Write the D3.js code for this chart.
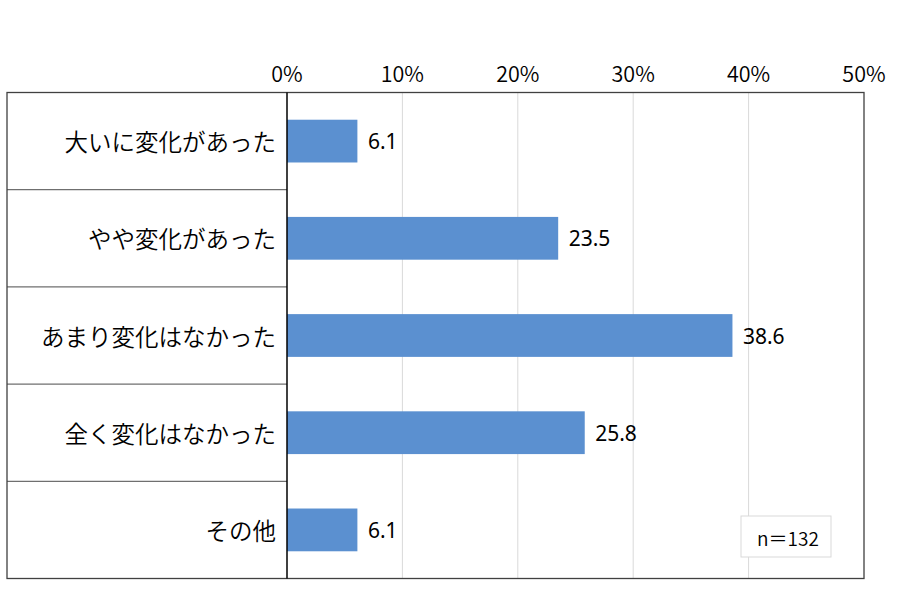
<!DOCTYPE html>
<html><head><meta charset="utf-8">
<script src="https://cdn.jsdelivr.net/npm/d3@7"></script>
<style>html,body{margin:0;padding:0;background:#fff;}svg{display:block;}</style>
</head><body>
<svg id="chart" width="900" height="607"></svg>
<script>
const categories = ["大いに変化があった","やや変化があった","あまり変化はなかった","全く変化はなかった","その他"];
const values = [6.1, 23.5, 38.6, 25.8, 6.1];
const tickValues = [0, 10, 20, 30, 40, 50];
const sampleNote = "n＝132";

const svg = d3.select("#chart");
const font = "'Noto Sans CJK JP','Noto Sans',sans-serif";
const numFont = "'Noto Sans',sans-serif";
const frame = {left: 7, right: 864, top: 92.5, bottom: 578.5};
const axisX = 287;

const x = d3.scaleLinear().domain([0, 50]).range([axisX, frame.right]);
const y = d3.scaleBand().domain(categories).range([frame.top, frame.bottom]).paddingInner(0).paddingOuter(0);
const barH = y.bandwidth() * 0.44;

// gridlines
svg.append("g").selectAll("line").data(tickValues.filter(d => d > 0 && d < 50)).join("line")
  .attr("x1", d => x(d)).attr("x2", d => x(d))
  .attr("y1", frame.top).attr("y2", frame.bottom)
  .attr("stroke", "#d9d9d9").attr("stroke-width", 1);

// tick labels
svg.append("g").selectAll("text").data(tickValues).join("text")
  .attr("x", d => x(d)).attr("y", 72)
  .attr("text-anchor", "middle").attr("dominant-baseline", "central")
  .attr("font-family", font).attr("font-size", 21.5).attr("font-weight", 350).attr("fill", "#000")
  .text(d => d + "%");

// row separators in label area
svg.append("g").selectAll("line").data(categories.slice(1)).join("line")
  .attr("x1", frame.left).attr("x2", axisX)
  .attr("y1", d => y(d)).attr("y2", d => y(d))
  .attr("stroke", "#6f6f6f").attr("stroke-width", 1.3);

// bars
svg.append("g").selectAll("rect").data(values).join("rect")
  .attr("x", x(0))
  .attr("y", (d, i) => y(categories[i]) + (y.bandwidth() - barH) / 2)
  .attr("width", d => x(d) - x(0))
  .attr("height", barH)
  .attr("fill", "#5b90d0");

// value labels
svg.append("g").selectAll("text").data(values).join("text")
  .attr("x", d => x(d) + 10.5)
  .attr("y", (d, i) => y(categories[i]) + y.bandwidth() / 2)
  .attr("dominant-baseline", "central")
  .attr("font-family", numFont).attr("font-size", 21).attr("fill", "#000")
  .text(d => d.toFixed(1));

// category labels
svg.append("g").selectAll("text").data(categories).join("text")
  .attr("x", axisX - 11)
  .attr("y", d => y(d) + y.bandwidth() / 2)
  .attr("text-anchor", "end").attr("dominant-baseline", "central")
  .attr("font-family", font).attr("font-size", 23.5).attr("font-weight", 350).attr("fill", "#000")
  .text(d => d);

// frame
svg.append("rect")
  .attr("x", frame.left).attr("y", frame.top)
  .attr("width", frame.right - frame.left).attr("height", frame.bottom - frame.top)
  .attr("fill", "none").attr("stroke", "#404040").attr("stroke-width", 1.3);

// axis line
svg.append("line")
  .attr("x1", axisX).attr("x2", axisX)
  .attr("y1", frame.top).attr("y2", frame.bottom)
  .attr("stroke", "#000").attr("stroke-width", 1.5);

// n note box
svg.append("rect")
  .attr("x", 741).attr("y", 516).attr("width", 90).attr("height", 41)
  .attr("fill", "#fff").attr("stroke", "#d9d9d9").attr("stroke-width", 1);
svg.append("text")
  .attr("x", 788).attr("y", 537)
  .attr("text-anchor", "middle").attr("dominant-baseline", "central")
  .attr("font-family", font).attr("font-size", 19).attr("font-weight", 350).attr("fill", "#000")
  .text(sampleNote);
</script>
</body></html>
